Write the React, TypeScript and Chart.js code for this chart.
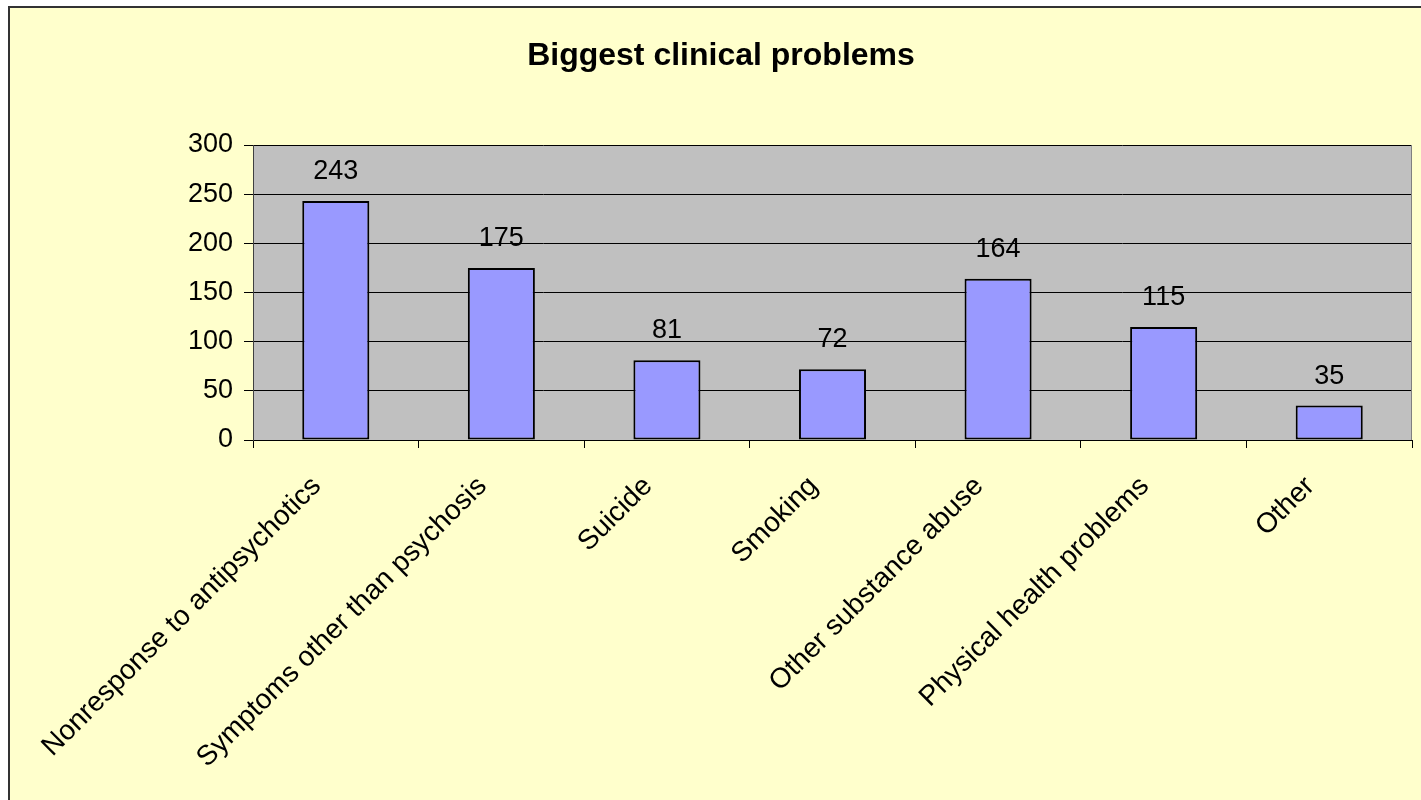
import React, { useEffect, useRef } from "react";
import { Chart, registerables } from "chart.js";

Chart.register(...registerables);

const categories = [
  "Nonresponse to antipsychotics",
  "Symptoms other than psychosis",
  "Suicide",
  "Smoking",
  "Other substance abuse",
  "Physical health problems",
  "Other",
];
const counts = [243, 175, 81, 72, 164, 115, 35];
const yTicks = [0, 50, 100, 150, 200, 250, 300];
const titleText = "Biggest clinical problems";

const FONT = "'Liberation Sans', Arial, sans-serif";

const backgroundPlugin = {
  id: "bgPlugin",
  beforeDraw(chart: any) {
    const { ctx, width, height, chartArea } = chart;
    ctx.save();
    ctx.fillStyle = "#ffffff";
    ctx.fillRect(0, 0, width, height);
    ctx.fillStyle = "#FFFFCC";
    ctx.fillRect(8, 6, width - 8, height - 6);
    ctx.fillStyle = "#333333";
    ctx.fillRect(8, 6, width - 8, 2);
    ctx.fillRect(8, 6, 2, height - 6);
    ctx.fillStyle = "#C0C0C0";
    ctx.fillRect(
      chartArea.left,
      chartArea.top,
      chartArea.right - chartArea.left,
      chartArea.bottom - chartArea.top
    );
    // title
    ctx.fillStyle = "#000000";
    ctx.font = `bold 32px ${FONT}`;
    ctx.textAlign = "center";
    ctx.textBaseline = "alphabetic";
    ctx.fillText(titleText, 721, 65);
    ctx.restore();
  },
  afterDraw(chart: any) {
    const { ctx, chartArea } = chart;
    ctx.save();
    ctx.strokeStyle = "#808080";
    ctx.lineWidth = 1;
    ctx.beginPath();
    ctx.moveTo(chartArea.right - 0.5, chartArea.top);
    ctx.lineTo(chartArea.right - 0.5, chartArea.bottom);
    ctx.stroke();
    ctx.restore();
  },
};

const valueLabelPlugin = {
  id: "valueLabels",
  afterDatasetsDraw(chart: any) {
    const { ctx } = chart;
    const meta = chart.getDatasetMeta(0);
    const data = chart.data.datasets[0].data;
    ctx.save();
    ctx.fillStyle = "#000000";
    ctx.font = `27px ${FONT}`;
    ctx.textAlign = "center";
    ctx.textBaseline = "alphabetic";
    meta.data.forEach((bar: any, i: number) => {
      ctx.fillText(String(data[i]), bar.x, bar.y - 22);
    });
    ctx.restore();
  },
};

export default function App() {
  const canvasRef = useRef<HTMLCanvasElement | null>(null);

  useEffect(() => {
    if (!canvasRef.current) return;
    const chart = new Chart(canvasRef.current, {
      type: "bar",
      data: {
        labels: categories,
        datasets: [
          {
            data: counts,
            backgroundColor: "#9999FF",
            borderColor: "#000000",
            borderWidth: 2,
            borderSkipped: false,
            categoryPercentage: 1,
            barPercentage: 0.405,
          },
        ],
      },
      options: {
        responsive: false,
        animation: false,
        layout: { padding: { left: 0, right: 9, top: 145, bottom: 0 } },
        plugins: {
          legend: { display: false },
          tooltip: { enabled: false },
          title: { display: false },
        },
        scales: {
          x: {
            offset: true,
            grid: {
              offset: true,
              drawOnChartArea: false,
              drawTicks: true,
              tickLength: 8,
              color: "#000000",
            },
            border: { display: true, color: "#000000", width: 1 },
            ticks: {
              color: "#000000",
              font: { family: FONT, size: 28 },
              maxRotation: 45,
              minRotation: 45,
              autoSkip: false,
              padding: 22,
              labelOffset: -19,
            },
            afterFit(scale: any) {
              scale.height = 360;
              scale.paddingLeft = 0;
              scale.paddingRight = 0;
            },
          },
          y: {
            min: 0,
            max: 300,
            afterBuildTicks(scale: any) {
              scale.ticks = yTicks.map((v) => ({ value: v }));
            },
            grid: {
              color: "#000000",
              lineWidth: 1,
              tickLength: 9,
              drawTicks: true,
            },
            border: { display: true, color: "#404040", width: 1 },
            ticks: {
              color: "#000000",
              font: { family: FONT, size: 27 },
              padding: 11,
            },
            afterFit(scale: any) {
              scale.width = 253;
              scale.paddingTop = 0;
              scale.paddingBottom = 0;
            },
          },
        },
      },
      plugins: [backgroundPlugin, valueLabelPlugin],
    });
    return () => chart.destroy();
  }, []);

  return (
    <div
      style={{
        position: "fixed",
        left: 0,
        top: 0,
        width: 1421,
        height: 800,
        overflow: "hidden",
        background: "#ffffff",
      }}
    >
      <canvas ref={canvasRef} width={1421} height={800} />
    </div>
  );
}
